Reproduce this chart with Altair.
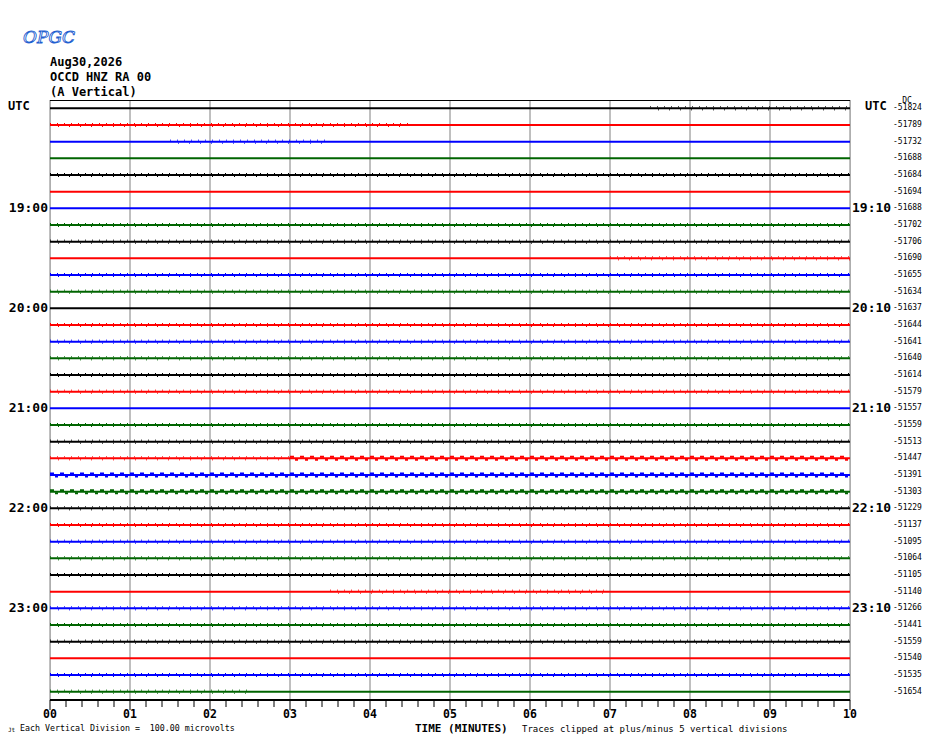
import altair as alt
import pandas as pd

MONO = "DejaVu Sans Mono"

# ---------------- data ----------------
trace_colors = ["#000000", "#ff0000", "#0000ff", "#006400"]
n_rows = 36
dc_values = [-51824, -51789, -51732, -51688, -51684, -51694, -51688, -51702,
             -51706, -51690, -51655, -51634, -51637, -51644, -51641, -51640,
             -51614, -51579, -51557, -51559, -51513, -51447, -51391, -51303,
             -51229, -51137, -51095, -51064, -51105, -51140, -51266, -51441,
             -51559, -51540, -51535, -51654]
hour_rows = [6, 12, 18, 24, 30]
left_labels = ["19:00", "20:00", "21:00", "22:00", "23:00"]
right_labels = ["19:10", "20:10", "21:10", "22:10", "23:10"]
minutes = list(range(11))
minute_labels = ["00", "01", "02", "03", "04", "05", "06", "07", "08", "09", "10"]
minor_ticks = [i / 5 for i in range(51) if i % 5]

# noise texture: row, start minute, end minute, level
noise_row = [0, 1, 2, 4, 7, 8, 9, 10, 11, 13, 14, 15, 16, 17, 19, 20, 21, 21, 22, 23,
             24, 25, 26, 27, 28, 29, 30, 31, 32, 34, 35]
noise_start = [7.5, 0, 1.5, 0, 0, 0, 7, 0, 0, 0, 0, 0, 0, 0, 0, 0, 0, 3, 0, 0,
               0, 0, 0, 0, 0, 3.5, 0, 0, 0, 0, 0]
noise_end = [10, 4.5, 3.5, 10, 10, 10, 10, 10, 10, 10, 10, 10, 10, 10, 10, 10, 3, 10, 10, 10,
             10, 10, 10, 10, 10, 7, 10, 10, 10, 10, 2.5]
noise_level = [1, 1, 1, 1, 1, 1, 1, 1, 1, 1, 1, 1, 1, 1, 1, 1, 1, 2, 2, 2,
               1, 1, 1, 1, 1, 1, 1, 1, 1, 1, 1]

# ---------------- tables ----------------
traces = pd.DataFrame({
    "row": list(range(n_rows)),
    "color": [trace_colors[r % 4] for r in range(n_rows)],
    "x0": [0] * n_rows,
    "x1": [10] * n_rows,
    "dc": [str(v) for v in dc_values],
})
noise = pd.DataFrame({
    "row": noise_row, "x0": noise_start, "x1": noise_end, "level": noise_level,
})
noise["color"] = [trace_colors[r % 4] for r in noise["row"]]
noise1 = noise[noise["level"] == 1]
noise2 = noise[noise["level"] == 2]
hours = pd.DataFrame({"row": hour_rows, "left": left_labels, "right": right_labels})
mins = pd.DataFrame({"m": minutes, "lab": minute_labels})
minors = pd.DataFrame({"m": minor_ticks})

xs = alt.Scale(domain=[0, 10], nice=False, zero=False)
ys = alt.Scale(domain=[-0.5, 35.5], reverse=True, nice=False, zero=False)
X = lambda f: alt.X(f, type="quantitative", scale=xs, axis=None)
Y = lambda f: alt.Y(f, type="quantitative", scale=ys, axis=None)

grid = alt.Chart(mins).mark_rule(color="#808080", strokeWidth=1).encode(
    x=X("m"), y=alt.value(0), y2=alt.value(600))
major = alt.Chart(mins).mark_rule(color="black", strokeWidth=1).encode(
    x=X("m"), y=alt.value(600), y2=alt.value(610))
minor = alt.Chart(minors).mark_rule(color="black", strokeWidth=1).encode(
    x=X("m"), y=alt.value(600), y2=alt.value(607))
top_line = alt.Chart(mins).mark_rule(color="black", strokeWidth=1).encode(
    x=alt.value(0), x2=alt.value(800), y=alt.value(0.5))
bottom_line = alt.Chart(mins).mark_rule(color="black", strokeWidth=1).encode(
    x=alt.value(0), x2=alt.value(800), y=alt.value(600))

lines = alt.Chart(traces).mark_rule(strokeWidth=2).encode(
    x=X("x0"), x2="x1", y=Y("row"), color=alt.Color("color:N", scale=None))

n1a = alt.Chart(noise1).mark_rule(strokeWidth=1, strokeDash=[1, 6], yOffset=-1.5).encode(
    x=X("x0"), x2="x1", y=Y("row"), color=alt.Color("color:N", scale=None))
n1b = alt.Chart(noise1).mark_rule(strokeWidth=1, strokeDash=[1, 10], strokeDashOffset=3,
                                  yOffset=1.5).encode(
    x=X("x0"), x2="x1", y=Y("row"), color=alt.Color("color:N", scale=None))
n2a = alt.Chart(noise2).mark_rule(strokeWidth=2, strokeDash=[4, 6], yOffset=-1.5).encode(
    x=X("x0"), x2="x1", y=Y("row"), color=alt.Color("color:N", scale=None))
n2b = alt.Chart(noise2).mark_rule(strokeWidth=2, strokeDash=[3, 7], strokeDashOffset=5,
                                  yOffset=1.5).encode(
    x=X("x0"), x2="x1", y=Y("row"), color=alt.Color("color:N", scale=None))

dc_text = alt.Chart(traces).mark_text(align="left", baseline="middle", font=MONO,
                                      fontSize=8).encode(
    x=alt.value(843), y=Y("row"), text="dc:N")
left_text = alt.Chart(hours).mark_text(align="right", baseline="middle", font=MONO,
                                       fontSize=13, fontWeight="bold").encode(
    x=alt.value(-2), y=Y("row"), text="left:N")
right_text = alt.Chart(hours).mark_text(align="left", baseline="middle", font=MONO,
                                        fontSize=13, fontWeight="bold").encode(
    x=alt.value(802), y=Y("row"), text="right:N")
min_text = alt.Chart(mins).mark_text(align="center", baseline="middle", font=MONO,
                                     fontSize=11.5, fontWeight="bold").encode(
    x=X("m"), y=alt.value(615), text="lab:N")


def label(txt, x, y, size, bold=False, align="left", font=MONO, **kw):
    return alt.Chart(pd.DataFrame({"t": [txt]})).mark_text(
        align=align, baseline="middle", fontSize=size, font=font,
        fontWeight="bold" if bold else "normal", **kw).encode(
        text="t:N", x=alt.value(x), y=alt.value(y))


texts = [
    label("Aug30,2026", 0, -38, 12, True),
    label("OCCD HNZ RA 00", 0, -23, 12, True),
    label("(A Vertical)", 0, -8, 12, True),
    label("UTC", -42, 6, 12, True),
    label("UTC", 815, 6, 12, True),
    label("DC", 857, 1, 8, False, "center"),
    label("TIME (MINUTES)", 365, 628.5, 11, True),
    label("Each Vertical Division = \u00a0100.00 microvolts", -30, 629, 8.3),
    label("Traces clipped at plus/minus 5 vertical divisions", 472, 629, 9),
    label("Jt", -42, 630, 6),
    label("OPGC", -27, -62, 17, False, "left", "DejaVu Serif",
          fontStyle="italic", fill="white", stroke="#1f5fd0", strokeWidth=0.9),
]

chart = alt.layer(
    grid, top_line, bottom_line, major, minor, lines, n1a, n1b, n2a, n2b,
    dc_text, left_text, right_text, min_text, *texts
).properties(
    width=800, height=600,
    autosize=alt.AutoSizeParams(type="none"),
    padding={"left": 42, "top": 92, "right": 72, "bottom": 34},
).configure_view(stroke=None).configure(background="white")

chart.save("out.html", embed_options={"renderer": "svg", "actions": False})
